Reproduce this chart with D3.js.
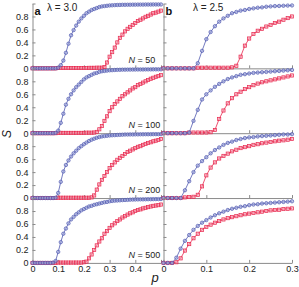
<!DOCTYPE html>
<html>
<head>
<meta charset="utf-8">
<script src="https://cdn.jsdelivr.net/npm/d3@7"></script>
<style>
  body { margin: 0; background: #fff; }
  svg text { font-family: "Liberation Sans", Arial, Helvetica, sans-serif; }
</style>
</head>
<body>
<div id="chart"></div>
<script>
// p values (x) for the two panels
let p_a = [0,0.01,0.02,0.03,0.04,0.05,0.06,0.07,0.08,0.09,
  0.1,0.11,0.12,0.13,0.14,0.15,0.16,0.17,0.18,0.19,
  0.2,0.21,0.22,0.23,0.24,0.25,0.26,0.27,0.28,0.29,
  0.3,0.31,0.32,0.33,0.34,0.35,0.36,0.37,0.38,0.39,
  0.4,0.41,0.42,0.43,0.44,0.45,0.46,0.47,0.48,0.49,0.5];
let p_b = [0,0.01,0.02,0.03,0.04,0.05,0.06,0.07,0.08,0.09,
  0.1,0.11,0.12,0.13,0.14,0.15,0.16,0.17,0.18,0.19,
  0.2,0.21,0.22,0.23,0.24,0.25,0.26,0.27,0.28,0.29,0.3];

let sizes = [50, 100, 200, 500];

// panel a, lambda = 3.0  (blue = circles, red = squares)
let a_blue_50 = [0,0,0,0,0,0,0,0,0,0,
  0.01,0.05,0.12,0.24,0.38,0.51,0.59,0.66,0.72,0.77,
  0.81,0.85,0.875,0.9,0.915,0.93,0.945,0.955,0.96,0.965,
  0.97,0.972,0.975,0.977,0.978,0.98,0.98,0.981,0.981,0.982,
  0.982,0.983,0.983,0.983,0.984,0.984,0.984,0.985,0.985,0.985,0.985];
let a_red_50 = [0,0,0,0,0,0,0,0,0,0,
  0.005,0.005,0.005,0.005,0.005,0.005,0.005,0.005,0.005,0.005,
  0.005,0.005,0.008,0.008,0.008,0.01,0.01,0.01,0.02,0.09,
  0.18,0.25,0.32,0.4,0.47,0.52,0.57,0.61,0.64,0.67,
  0.7,0.73,0.75,0.77,0.795,0.81,0.83,0.85,0.86,0.875,0.89];

let a_blue_100 = [0,0,0,0,0,0,0,0,0,0.005,
  0.04,0.16,0.3,0.44,0.53,0.6,0.66,0.71,0.75,0.79,
  0.83,0.86,0.88,0.9,0.92,0.93,0.945,0.955,0.96,0.965,
  0.97,0.972,0.975,0.977,0.978,0.98,0.98,0.981,0.981,0.982,
  0.982,0.983,0.983,0.983,0.984,0.984,0.984,0.985,0.985,0.985,0.985];
let a_red_100 = [0,0,0,0,0,0,0,0,0,0,
  0.005,0.005,0.005,0.005,0.005,0.005,0.005,0.005,0.005,0.005,
  0.005,0.008,0.008,0.008,0.01,0.02,0.06,0.11,0.19,0.26,
  0.34,0.4,0.45,0.49,0.53,0.57,0.6,0.63,0.66,0.69,
  0.71,0.74,0.76,0.78,0.8,0.82,0.84,0.855,0.87,0.88,0.895];

let a_blue_200 = [0,0,0,0,0,0,0,0,0,0.005,
  0.08,0.25,0.41,0.51,0.58,0.64,0.69,0.73,0.77,0.8,
  0.83,0.855,0.88,0.9,0.915,0.93,0.94,0.95,0.955,0.96,
  0.965,0.968,0.97,0.973,0.975,0.977,0.98,0.98,0.981,0.981,
  0.982,0.982,0.983,0.983,0.984,0.984,0.984,0.985,0.985,0.985,0.985];
let a_red_200 = [0,0,0,0,0,0,0,0,0,0,
  0.005,0.005,0.005,0.005,0.005,0.005,0.005,0.005,0.005,0.005,
  0.005,0.005,0.005,0.01,0.04,0.13,0.21,0.28,0.34,0.4,
  0.46,0.51,0.55,0.59,0.62,0.65,0.68,0.71,0.73,0.75,
  0.77,0.79,0.8,0.82,0.835,0.85,0.86,0.875,0.885,0.895,0.91];

let a_blue_500 = [0,0,0,0,0,0,0,0,0.005,0.03,
  0.17,0.32,0.45,0.53,0.61,0.67,0.71,0.75,0.78,0.81,
  0.83,0.85,0.87,0.88,0.895,0.905,0.915,0.925,0.935,0.94,
  0.95,0.955,0.96,0.962,0.965,0.968,0.97,0.972,0.975,0.977,
  0.978,0.979,0.98,0.98,0.981,0.982,0.982,0.983,0.984,0.984,0.985];
let a_red_500 = [0,0,0,0,0,0,0,0,0,0,
  0.005,0.005,0.005,0.005,0.005,0.005,0.005,0.005,0.005,0.005,
  0.01,0.02,0.07,0.13,0.2,0.27,0.33,0.38,0.45,0.49,
  0.54,0.58,0.61,0.645,0.67,0.7,0.72,0.745,0.765,0.78,
  0.8,0.815,0.825,0.84,0.85,0.86,0.87,0.88,0.885,0.89,0.9];

// panel b, lambda = 2.5
let b_blue_50 = [0,0,0,0,0,0,0,0,0.08,0.27,
  0.45,0.56,0.65,0.72,0.77,0.81,0.85,0.87,0.89,0.9,
  0.915,0.925,0.935,0.94,0.95,0.955,0.96,0.962,0.965,0.968,0.97];
let b_red_50 = [0,0,0,0,0,0,0,0,0.01,0.01,
  0.01,0.01,0.01,0.01,0.01,0.01,0.015,0.04,0.18,0.35,
  0.46,0.53,0.58,0.61,0.645,0.67,0.7,0.72,0.75,0.775,0.8];

let b_blue_100 = [0,0,0,0,0,0,0.01,0.19,0.36,0.52,
  0.6,0.66,0.715,0.76,0.8,0.835,0.86,0.88,0.9,0.91,
  0.92,0.93,0.935,0.94,0.945,0.95,0.955,0.96,0.965,0.97,0.975];
let b_red_100 = [0,0,0,0,0,0,0.01,0.01,0.01,0.01,
  0.01,0.015,0.05,0.22,0.35,0.46,0.54,0.6,0.64,0.68,
  0.71,0.74,0.765,0.785,0.8,0.815,0.83,0.845,0.86,0.875,0.89];

let b_blue_200 = [0,0,0,0,0,0.12,0.26,0.4,0.5,0.57,
  0.63,0.69,0.74,0.78,0.82,0.85,0.87,0.895,0.91,0.925,
  0.935,0.94,0.95,0.955,0.96,0.965,0.97,0.975,0.98,0.98,0.985];
let b_red_200 = [0,0,0,0,0,0.01,0.015,0.02,0.05,0.18,
  0.35,0.47,0.55,0.61,0.65,0.685,0.72,0.745,0.77,0.785,
  0.8,0.82,0.83,0.845,0.855,0.865,0.875,0.885,0.89,0.9,0.91];

let b_blue_500 = [0,0,0,0.08,0.22,0.34,0.43,0.51,0.57,0.62,
  0.66,0.7,0.735,0.765,0.79,0.815,0.835,0.85,0.865,0.875,
  0.89,0.9,0.905,0.915,0.92,0.925,0.93,0.935,0.94,0.945,0.95];
let b_red_500 = [0,0,0,0.01,0.07,0.19,0.29,0.38,0.45,0.51,
  0.555,0.59,0.62,0.645,0.67,0.69,0.705,0.72,0.735,0.75,
  0.76,0.77,0.78,0.79,0.8,0.81,0.815,0.82,0.83,0.835,0.84];

let y_ticks = [0, 0.2, 0.4, 0.6, 0.8, 1];
let x_ticks_a = [0, 0.1, 0.2, 0.3, 0.4, 0.5];
let x_ticks_b = [0, 0.1, 0.2, 0.3];

let blue = "#5059b0", blue_fill = "#9fa6da",
    red = "#e8264c", red_fill = "#f59aae",
    axis_col = "#8a8a8a", text_col = "#222";

let width = 299, height = 287;

let svg = d3.select("#chart").append("svg")
  .attr("width", width)
  .attr("height", height);

// layout of the 2 x 4 grid
let top_y = 3.5, row_h = 64.85;

let panels = [
  { x0: 32.5, x1: 161, domain: [0, 0.5], p: p_a, ticks: x_ticks_a, labels: true,
    blues: [a_blue_50, a_blue_100, a_blue_200, a_blue_500],
    reds:  [a_red_50, a_red_100, a_red_200, a_red_500] },
  { x0: 163.5, x1: 292, domain: [0, 0.3], p: p_b, ticks: x_ticks_b, labels: false,
    blues: [b_blue_50, b_blue_100, b_blue_200, b_blue_500],
    reds:  [b_red_50, b_red_100, b_red_200, b_red_500] }
];

let fmt = function(d){ return d === 0 ? "0" : d3.format(".1f")(d); };

function style_axis(sel) {
  sel.select(".domain").attr("stroke", axis_col).attr("stroke-width", 1);
  sel.selectAll(".tick line").attr("stroke", axis_col).attr("stroke-width", 1);
  sel.selectAll(".tick text").attr("fill", text_col).style("font-size", "9px");
  sel.attr("font-size", null).attr("font-family", null);
}

panels.forEach(function(P, pi){
  let x = d3.scaleLinear().domain(P.domain).range([P.x0, P.x1]);

  sizes.forEach(function(N, ri){
    let y = d3.scaleLinear().domain([0, 1])
      .range([top_y + (ri + 1) * row_h, top_y + ri * row_h]);
    let last = (ri === sizes.length - 1);

    // y axis for this row, ticks pointing inwards
    let ya = svg.append("g")
      .attr("transform", "translate(" + P.x0 + ",0)")
      .call(d3.axisLeft(y).tickValues(y_ticks).tickSizeInner(-3).tickSizeOuter(0).tickPadding(4)
        .tickFormat(function(d){ return (P.labels && d < 1) ? fmt(d) : ""; }));
    style_axis(ya);

    // zero line with upward ticks
    let xa = svg.append("g")
      .attr("transform", "translate(0," + y(0) + ")")
      .call(d3.axisBottom(x).tickValues(P.ticks).tickSizeInner(-3).tickSizeOuter(0).tickPadding(3)
        .tickFormat(function(d){ return (last && d < P.domain[1] - 1e-9) || (last && pi === 1) ? fmt(d) : ""; }));
    style_axis(xa);

    let red_pts = P.p.map(function(p, i){ return [p, P.reds[ri][i]]; });
    let blue_pts = P.p.map(function(p, i){ return [p, P.blues[ri][i]]; });

    let line = d3.line().x(function(d){ return x(d[0]); }).y(function(d){ return y(d[1]); });

    // red squares first, blue circles on top
    svg.append("path").datum(red_pts)
      .attr("d", line).attr("fill", "none").attr("stroke", red).attr("stroke-width", 0.8);
    svg.append("g").selectAll("rect").data(red_pts).enter().append("rect")
      .attr("x", function(d){ return x(d[0]) - 1.6; })
      .attr("y", function(d){ return y(d[1]) - 1.6; })
      .attr("width", 3.2).attr("height", 3.2)
      .attr("fill", red_fill).attr("fill-opacity", 0.6)
      .attr("stroke", red).attr("stroke-width", 0.7);

    svg.append("path").datum(blue_pts)
      .attr("d", line).attr("fill", "none").attr("stroke", blue).attr("stroke-width", 0.8);
    svg.append("g").selectAll("circle").data(blue_pts).enter().append("circle")
      .attr("cx", function(d){ return x(d[0]); })
      .attr("cy", function(d){ return y(d[1]); })
      .attr("r", 1.7)
      .attr("fill", blue_fill).attr("fill-opacity", 0.6)
      .attr("stroke", blue).attr("stroke-width", 0.7);

    // N labels, only in panel a
    if (pi === 0) {
      let t = svg.append("text")
        .attr("x", 128.5).attr("y", y(0) - 5)
        .attr("fill", text_col)
        .style("font-size", "9px");
      t.append("tspan").style("font-style", "italic").text("N");
      t.append("tspan").text(" = " + N);
    }
  });
});

// panel letters and lambda values
svg.append("text").attr("x", 34.5).attr("y", 15)
  .style("font-size", "11px").style("font-weight", "bold").attr("fill", "#111").text("a");
svg.append("text").attr("x", 47).attr("y", 10.5)
  .style("font-size", "10px").attr("fill", text_col).text("λ = 3.0");
svg.append("text").attr("x", 165.5).attr("y", 15)
  .style("font-size", "11px").style("font-weight", "bold").attr("fill", "#111").text("b");
svg.append("text").attr("x", 193).attr("y", 10.5)
  .style("font-size", "10px").attr("fill", text_col).text("λ = 2.5");

// axis titles
svg.append("text")
  .attr("transform", "translate(11,134) rotate(-90)")
  .attr("text-anchor", "middle")
  .style("font-size", "12px").style("font-style", "italic")
  .attr("fill", text_col).text("S");
svg.append("text")
  .attr("x", 155).attr("y", 282)
  .attr("text-anchor", "middle")
  .style("font-size", "13px").style("font-style", "italic")
  .attr("fill", text_col).text("p");
</script>
</body>
</html>
